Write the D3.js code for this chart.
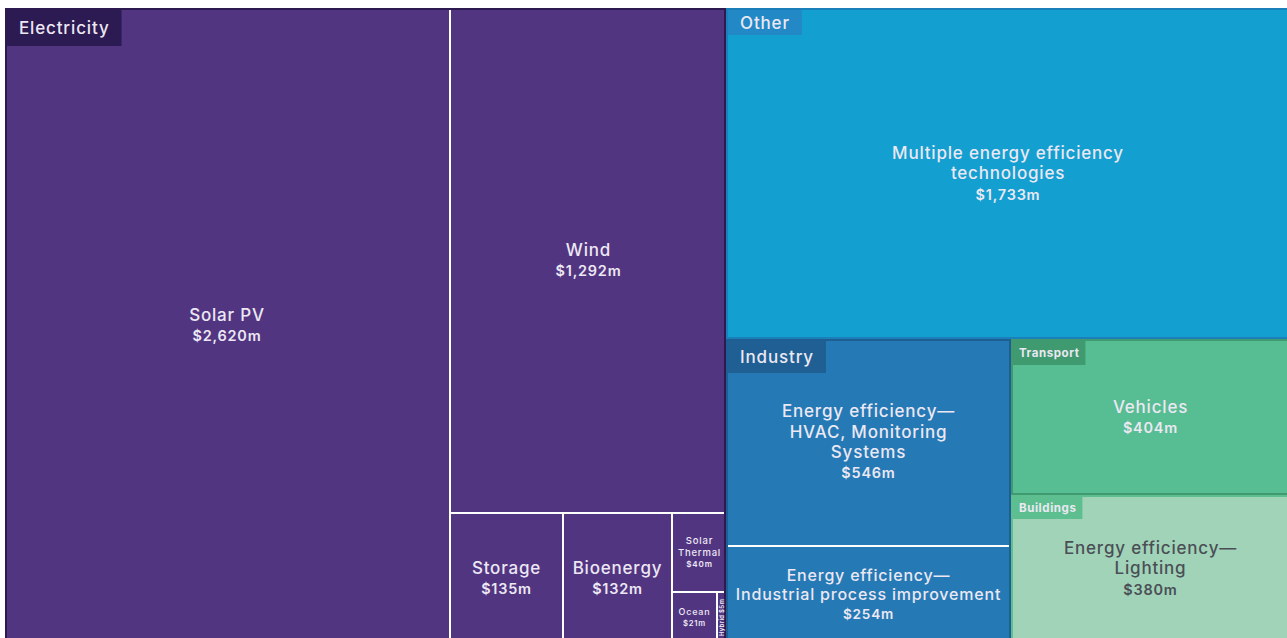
<!DOCTYPE html>
<html>
<head>
<meta charset="utf-8">
<script src="https://cdn.jsdelivr.net/npm/d3@7"></script>
<style>
  body { margin: 0; background: #fff; }
  svg { display: block; font-family: Inter, "Noto Sans", sans-serif; }
  text { letter-spacing: 0.05em; }
</style>
</head>
<body>
<svg id="chart"></svg>
<script>
const width = 1287;
const height = 638;

// values, US$ millions
const groups = ["Electricity", "Other", "Industry", "Transport", "Buildings"];
const technologies = [
    "Solar PV", "Wind", "Storage", "Bioenergy", "Solar\nThermal", "Ocean", "Hybrid",
    "Multiple energy efficiency\ntechnologies",
    "Energy efficiency—\nHVAC, Monitoring\nSystems",
    "Energy efficiency—\nIndustrial process improvement",
    "Vehicles",
    "Energy efficiency—\nLighting"
];
const techGroup = [
    "Electricity", "Electricity", "Electricity", "Electricity", "Electricity", "Electricity", "Electricity",
    "Other", "Industry", "Industry", "Transport", "Buildings"
];
const investment = [2620, 1292, 135, 132, 40, 21, 5, 1733, 546, 254, 404, 380];

// how the tiles are nested (numbers are indexes into the arrays above)
const arrangement = {split: "x", children: [
    {group: "Electricity", split: "x", children: [0, {split: "y", children: [1,
        {split: "x", children: [2, 3, {split: "y", children: [4, {split: "x", children: [5, 6]}]}]}]}]},
    {split: "y", children: [
        {group: "Other", split: "y", children: [7]},
        {split: "x", children: [
            {group: "Industry", split: "y", children: [8, 9]},
            {split: "y", children: [
                {group: "Transport", split: "y", children: [10]},
                {group: "Buildings", split: "y", children: [11]}
            ]}
        ]}
    ]}
]};

const fill = {Electricity: "#523581", Other: "#139fd0", Industry: "#2579b5", Transport: "#57bd92", Buildings: "#a1d3b8"};
const edge = {Electricity: "#2c1a50", Other: "#1b7fb9", Industry: "#1d5f92", Transport: "#3f9a70", Buildings: "#5dbf90"};
const tabFill = {Electricity: "#2c1a52", Other: "#2288c6", Industry: "#1f5f93", Transport: "#3f9a70", Buildings: "#5dbf90"};
const tabHeight = {Electricity: 36, Other: 25, Industry: 32, Transport: 24, Buildings: 22};
const textColor = g => g === "Buildings" ? "#4a4f56" : "#ece8f3";

const svg = d3.select("#chart")
    .attr("width", width)
    .attr("height", height);

const root = d3.hierarchy(arrangement, d => d.children
        ? d.children.map(c => typeof c === "number" ? {leaf: c} : c)
        : null)
    .sum(d => d.leaf !== undefined ? investment[d.leaf] : 0);

root.each(n => { n.inGroup = !!(n.data.group || (n.parent && n.parent.inGroup)); });

const tile = (node, x0, y0, x1, y1) =>
    (node.data.split === "x" ? d3.treemapDice : d3.treemapSlice)(node, x0, y0, x1, y1);

d3.treemap()
    .tile(tile)
    .size([1285, 634])
    .paddingInner(n => n.inGroup ? 2 : 0)
    .round(true)(root);

const chart = svg.append("g").attr("transform", "translate(5,8)");

const groupNodes = root.descendants().filter(d => d.data.group);
const leaves = root.leaves();

// white underneath so the gaps between tiles read as thin white lines
chart.selectAll(".group-bg")
    .data(groupNodes)
    .join("rect")
    .attr("class", "group-bg")
    .attr("x", d => d.x0).attr("y", d => d.y0)
    .attr("width", d => d.x1 - d.x0).attr("height", d => d.y1 - d.y0)
    .attr("fill", "#fff");

chart.selectAll(".leaf")
    .data(leaves)
    .join("rect")
    .attr("class", "leaf")
    .attr("x", d => d.x0).attr("y", d => d.y0)
    .attr("width", d => d.x1 - d.x0).attr("height", d => d.y1 - d.y0)
    .attr("fill", d => fill[techGroup[d.data.leaf]]);

chart.selectAll(".group-edge")
    .data(groupNodes)
    .join("rect")
    .attr("class", "group-edge")
    .attr("x", d => d.x0 + 1).attr("y", d => d.y0 + 1)
    .attr("width", d => d.x1 - d.x0 - 2).attr("height", d => d.y1 - d.y0 - 2)
    .attr("fill", "none")
    .attr("stroke", d => edge[d.data.group])
    .attr("stroke-width", 2);

// label fitting
const ctx = document.createElement("canvas").getContext("2d");
const measure = (txt, size, weight) => {
    ctx.font = `${weight} ${size}px Inter, "Noto Sans", sans-serif`;
    return ctx.measureText(txt).width + txt.length * size * 0.05;
};
const money = v => "$" + d3.format(",")(v) + "m";

function fitSize(lines, value, w, h) {
    let fs = 17;
    while (fs > 5) {
        const lh = fs * 1.2;
        const widest = Math.max(...lines.map(l => measure(l, fs, 500)), measure(value, fs * 0.85, 600));
        if (widest <= w && (lines.length + 1) * lh <= h) break;
        fs -= 0.5;
    }
    return fs;
}

const labels = chart.selectAll(".label")
    .data(leaves)
    .join("g")
    .attr("class", "label");

labels.each(function(d) {
    const i = d.data.leaf;
    let lines = technologies[i].split("\n");
    const value = money(investment[i]);
    const w = d.x1 - d.x0, h = d.y1 - d.y0;
    const cx = (d.x0 + d.x1) / 2, cy = (d.y0 + d.y1) / 2;
    const g = d3.select(this).attr("transform", `translate(${cx},${cy})`);
    const fs = fitSize(lines, value, w - 12, h - 8);

    // very thin tiles: one line turned on its side
    if (fs < 9 && h > w) {
        const one = lines.join(" ") + " " + value;
        let fr = 12;
        while (fr > 5 && (measure(one, fr, 600) > h - 6 || fr * 1.1 > w - 1)) fr -= 0.5;
        g.attr("transform", `translate(${cx},${cy}) rotate(-90)`)
            .append("text")
            .attr("text-anchor", "middle")
            .attr("dy", "0.35em")
            .attr("font-size", fr)
            .attr("font-weight", 600)
            .attr("fill", textColor(techGroup[i]))
            .text(one);
        return;
    }

    const lh = fs * 1.2;
    const n = lines.length + 1;
    const t = g.append("text")
        .attr("text-anchor", "middle")
        .attr("fill", textColor(techGroup[i]));
    const top = -n * lh / 2 + lh * 0.78;
    lines.forEach((l, k) => {
        t.append("tspan")
            .attr("x", 0)
            .attr("y", top + k * lh)
            .attr("font-size", fs)
            .attr("font-weight", 500)
            .text(l);
    });
    t.append("tspan")
        .attr("x", 0)
        .attr("y", top + lines.length * lh)
        .attr("font-size", fs * 0.85)
        .attr("font-weight", 600)
        .text(value);
});

// group tabs in the top-left corner
const tabs = chart.selectAll(".tab")
    .data(groupNodes)
    .join("g")
    .attr("class", "tab")
    .attr("transform", d => `translate(${d.x0 + 2},${d.y0 + 2})`);

tabs.each(function(d) {
    const small = d.value < 500;
    const fs = small ? 11.5 : 17;
    const padX = small ? 6 : 12;
    const th = tabHeight[d.data.group];
    const tw = measure(d.data.group, fs, small ? 700 : 500) + padX * 2;
    const g = d3.select(this);
    g.append("rect")
        .attr("width", tw).attr("height", th)
        .attr("fill", tabFill[d.data.group]);
    g.append("text")
        .attr("x", padX)
        .attr("y", th / 2 + fs * 0.36)
        .attr("font-size", fs)
        .attr("font-weight", small ? 700 : 500)
        .attr("fill", "#ece8f3")
        .text(d.data.group);
});
</script>
</body>
</html>
